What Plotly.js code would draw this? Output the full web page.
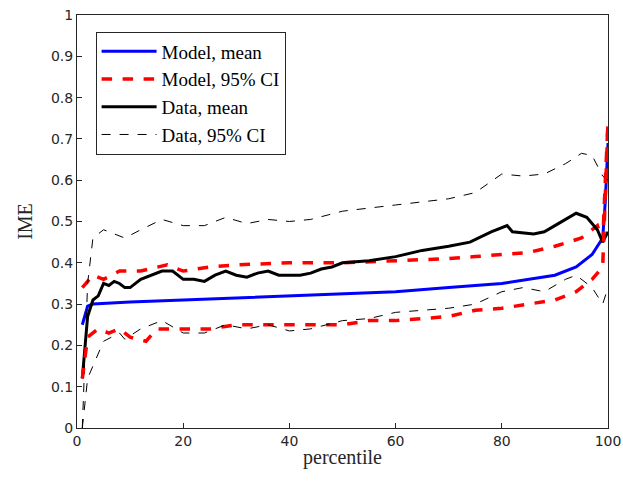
<!DOCTYPE html><html><head><script src="https://cdn.plot.ly/plotly-3.0.1.min.js"></script></head><body style="margin:0"><div id="c" style="width:623px;height:481px"></div><script>
const dmX=[1,2,3,4,5,6,7,8,9,10,12,14,16,18,20,22,24,26,28,30,32,34,36,38,40,42,44,46,48,50,55,60,65,70,74,78,81,82,86,88,90,92,94,96,98,99,100];
const dmY=[0.12,0.27,0.31,0.32,0.35,0.345,0.355,0.35,0.34,0.34,0.36,0.37,0.38,0.38,0.36,0.36,0.355,0.37,0.38,0.37,0.365,0.375,0.38,0.37,0.37,0.37,0.375,0.385,0.39,0.4,0.405,0.415,0.43,0.44,0.45,0.475,0.49,0.475,0.47,0.475,0.49,0.505,0.52,0.51,0.48,0.45,0.475];
const mmX=[1,2,3,10,20,40,60,70,80,90,94,97,99,99.5,100];
const mmY=[0.25,0.295,0.30,0.305,0.31,0.32,0.33,0.34,0.35,0.37,0.39,0.42,0.46,0.55,0.69];
const muX=[1,3,5,8,12,17,20,25,30,40,50,60,70,75,80,85,90,95,98,99,99.5,100];
const muY=[0.34,0.37,0.36,0.38,0.38,0.395,0.38,0.39,0.395,0.40,0.40,0.405,0.41,0.415,0.42,0.425,0.44,0.46,0.49,0.45,0.6,0.74];
const mlX=[1,2,4,6,8,10,13,15,18,20,25,30,40,50,55,60,65,70,75,80,85,90,94,97,99,99.5,100];
const mlY=[0.12,0.22,0.24,0.23,0.24,0.22,0.21,0.24,0.24,0.24,0.24,0.25,0.25,0.25,0.26,0.26,0.265,0.27,0.285,0.29,0.30,0.31,0.33,0.36,0.39,0.55,0.74];
const duX=[1,2,3,5,7,9,12,16,20,24,28,32,36,40,44,50,60,70,75,80,84,88,92,95,97,99,100];
const duY=[0.0,0.35,0.46,0.48,0.47,0.46,0.48,0.505,0.49,0.49,0.51,0.495,0.505,0.5,0.505,0.525,0.54,0.555,0.57,0.615,0.61,0.615,0.64,0.665,0.66,0.61,0.6];
const dlX=[1,2,3,5,8,9,12,16,20,24,28,32,36,40,44,50,55,60,70,75,80,84,88,92,94,97,99,100];
const dlY=[0.0,0.12,0.15,0.21,0.23,0.215,0.24,0.26,0.23,0.23,0.25,0.24,0.25,0.235,0.24,0.26,0.265,0.28,0.29,0.3,0.33,0.34,0.33,0.36,0.37,0.34,0.3,0.34];
const xTicks=[0,20,40,60,80,100];
const yTicks=[0,0.1,0.2,0.3,0.4,0.5,0.6,0.7,0.8,0.9,1];
const yTickText=['0','0.1','0.2','0.3','0.4','0.5','0.6','0.7','0.8','0.9','1'];
const traces=[
{x:mmX,y:mmY,name:'Model, mean',line:{color:'#0000ff',width:3}},
{x:muX,y:muY,name:'Model, 95% CI',line:{color:'#ff0000',width:3.5,dash:'dash'}},
{x:dmX,y:dmY,name:'Data, mean',line:{color:'#000',width:3}},
{x:duX,y:duY,name:'Data, 95% CI',line:{color:'#000',width:1,dash:'dash'}},
{x:mlX,y:mlY,showlegend:false,line:{color:'#ff0000',width:3.5,dash:'dash'}},
{x:dlX,y:dlY,showlegend:false,line:{color:'#000',width:1,dash:'dash'}}
].map(t=>Object.assign({type:'scatter',mode:'lines'},t));
const ax={showline:true,mirror:true,linecolor:'#262626',linewidth:1,ticks:'inside',ticklen:5,tickcolor:'#262626',showgrid:false,zeroline:false,ticklabeloverflow:'allow',tickfont:{family:'DejaVu Sans',size:14,color:'#262626'}};
Plotly.newPlot('c',traces,{width:623,height:481,margin:{l:77,r:15,t:15,b:53},paper_bgcolor:'#fff',plot_bgcolor:'#fff',
xaxis:Object.assign({},ax,{range:[0,100],tickmode:'array',tickvals:xTicks,ticktext:xTicks.map(String),title:{text:'percentile',font:{family:'Liberation Serif',size:20,color:'#262626'},standoff:2}}),
yaxis:Object.assign({},ax,{range:[0,1],tickmode:'array',tickvals:yTicks,ticktext:yTickText,title:{text:'IME',font:{family:'Liberation Serif',size:20,color:'#262626'},standoff:12}}),
legend:{x:0.035,y:0.96,xanchor:'left',yanchor:'top',bordercolor:'#262626',borderwidth:1,bgcolor:'#fff',font:{family:'Liberation Serif',size:19,color:'#000'},tracegroupgap:0,itemwidth:55},
showlegend:true},{displayModeBar:false});
</script></body></html>
